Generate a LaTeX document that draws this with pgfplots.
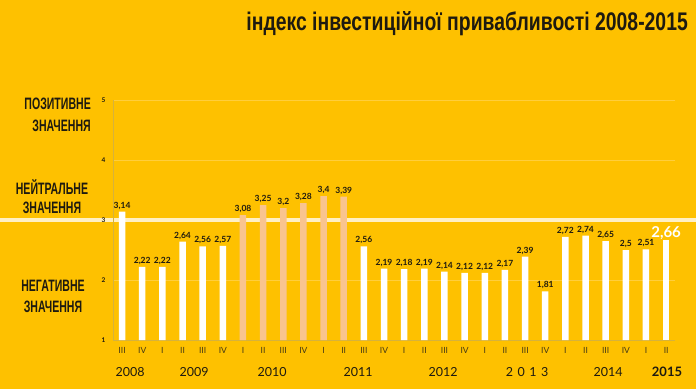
\documentclass[border=0pt]{standalone}
\usepackage{pgfplots}
\pgfplotsset{compat=1.18}
\usepackage{fontspec}
\setmainfont{Lato}
\newfontfamily\titlefont[FakeStretch=0.76]{Liberation Sans}
\newfontfamily\capfont[FakeStretch=0.64]{Liberation Sans}
\definecolor{bgc}{RGB}{254,193,0}
\definecolor{linec}{RGB}{255,240,196}
\definecolor{peach}{RGB}{249,196,143}
\definecolor{gridc}{RGB}{255,206,60}
\definecolor{axc}{RGB}{214,178,60}
\definecolor{txt}{RGB}{30,26,16}
\definecolor{rom}{RGB}{70,58,20}
\begin{document}
\begin{tikzpicture}[x=1pt,y=1pt]
\fill[bgc] (0,0) rectangle (696,389);
\draw[line width=3.5pt, linec] (0,169) -- (696,169);
\begin{axis}[
  at={(113pt,49pt)}, anchor=south west, scale only axis,
  width=562pt, height=240pt,
  xmin=-0.45, xmax=27.44, ymin=1, ymax=5,
  axis lines=left, axis line style={-, axc, line width=0.6pt},
  major tick length=0pt,
  ytick={1,2,4,5}, ymajorgrids, grid style={gridc, line width=0.6pt},
  extra y ticks={3}, extra y tick style={grid=none},
  /pgf/number format/assume math mode=true,
  yticklabel style={font=\bfseries\fontsize{6.5}{6.5}\selectfont, text=txt, xshift=-4pt},
  xtick={0,...,27},
  xticklabels={III,IV,I,II,III,IV,I,II,III,IV,I,II,III,IV,I,II,III,IV,I,II,III,IV,I,II,III,IV,I,II},
  xticklabel style={font=\fontsize{8.5}{8.5}\selectfont, text=rom, yshift=-4pt},
  nodes near coords={\pgfmathprintnumber[use comma,assume math mode=true]{\pgfplotspointmeta}},
  every node near coord/.append style={font=\bfseries\fontsize{8.5}{8.5}\selectfont, text=txt, inner sep=2pt},
]
\addplot[ybar, bar width=6.5pt, bar shift=0pt, fill=white, draw=none] coordinates {
(0,3.14) (1,2.22) (2,2.22) (3,2.64) (4,2.56) (5,2.57)
(12,2.56) (13,2.19) (14,2.18) (15,2.19) (16,2.14) (17,2.12) (18,2.12) (19,2.17) (20,2.39) (21,1.81)
(22,2.72) (23,2.74) (24,2.65) (25,2.5) (26,2.51)};
\addplot[ybar, bar width=6.5pt, bar shift=0pt, fill=peach, draw=none] coordinates {
(6,3.08) (7,3.25) (8,3.2) (9,3.28) (10,3.4) (11,3.39)};
\addplot[ybar, bar width=6.5pt, bar shift=0pt, fill=white, draw=none,
  every node near coord/.append style={font=\bfseries\fontsize{15}{15}\selectfont, text=white, inner sep=1pt}] coordinates {(27,2.66)};
\end{axis}
% title
\node[anchor=base east, text=txt, inner sep=0pt] at (688,358) {\titlefont\bfseries\fontsize{25.5}{25.5}\selectfont індекс інвестиційної привабливості 2008-2015};
% left labels
\node[anchor=base east, text=txt, inner sep=0pt] at (91,279) {\capfont\bfseries\fontsize{16.5}{16.5}\selectfont ПОЗИТИВНЕ};
\node[anchor=base east, text=txt, inner sep=0pt] at (91,258) {\capfont\bfseries\fontsize{16.5}{16.5}\selectfont ЗНАЧЕННЯ};
\node[anchor=base, text=txt, inner sep=0pt] at (52,195) {\capfont\bfseries\fontsize{16.5}{16.5}\selectfont НЕЙТРАЛЬНЕ};
\node[anchor=base, text=txt, inner sep=0pt] at (52,176) {\capfont\bfseries\fontsize{16.5}{16.5}\selectfont ЗНАЧЕННЯ};
\node[anchor=base, text=txt, inner sep=0pt] at (53,98) {\capfont\bfseries\fontsize{16.5}{16.5}\selectfont НЕГАТИВНЕ};
\node[anchor=base, text=txt, inner sep=0pt] at (53,77) {\capfont\bfseries\fontsize{16.5}{16.5}\selectfont ЗНАЧЕННЯ};
% years
\foreach \xx/\yy in {130/2008, 194/2009, 272/2010, 358/2011, 443/2012, 608/2014}{
  \node[text=txt, inner sep=0pt, font=\fontsize{12.5}{12.5}\selectfont] at (\xx,17) {\yy};
}
\node[text=txt, inner sep=0pt, font=\fontsize{12.5}{12.5}\selectfont] at (527,17) {2\hspace{4.5pt}0\hspace{4.5pt}1\hspace{4.5pt}3};
\node[text=txt, inner sep=0pt, font=\bfseries\fontsize{13}{13}\selectfont] at (667,17) {2015};
\pgfresetboundingbox
\useasboundingbox (0,0) rectangle (696,389);
\end{tikzpicture}
\end{document}
